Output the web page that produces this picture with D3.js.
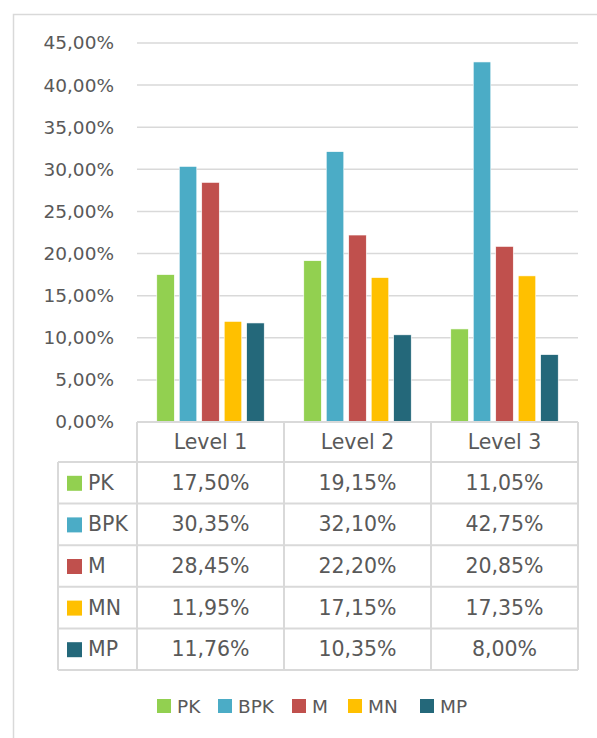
<!DOCTYPE html>
<html>
<head>
<meta charset="utf-8">
<script src="https://cdn.jsdelivr.net/npm/d3@7/dist/d3.min.js"></script>
<style>
  html, body { margin: 0; padding: 0; background: #fff; }
  svg { display: block; }
  text { font-family: "DejaVu Sans", sans-serif; fill: #595959; }
</style>
</head>
<body>
<svg id="chart" width="597" height="738"></svg>
<script>
const categories = ["Level 1", "Level 2", "Level 3"];
const seriesNames = ["PK", "BPK", "M", "MN", "MP"];
const seriesColors = ["#92D050", "#4BACC6", "#C0504D", "#FFC000", "#24687A"];
const pkValues  = [17.50, 19.15, 11.05];
const bpkValues = [30.35, 32.10, 42.75];
const mValues   = [28.45, 22.20, 20.85];
const mnValues  = [11.95, 17.15, 17.35];
const mpValues  = [11.76, 10.35, 8.00];
const yTicks = [0, 5, 10, 15, 20, 25, 30, 35, 40, 45];

const seriesValues = [pkValues, bpkValues, mValues, mnValues, mpValues];
const fmt = v => v.toFixed(2).replace(".", ",") + "%";

const svg = d3.select("#chart");
const grid = "#D9D9D9";

// outer chart border
svg.append("rect").attr("x", 13.5).attr("y", 14.5).attr("width", 620).attr("height", 760)
  .attr("fill", "none").attr("stroke", grid).attr("stroke-width", 1.5);

const plot = { left: 137, right: 578, top: 43, bottom: 422 };
const y = d3.scaleLinear().domain([0, 45]).range([plot.bottom, plot.top]);
const x0 = d3.scaleBand().domain(categories).range([plot.left, plot.right]);
const x1 = d3.scaleBand().domain(seriesNames).range([0, x0.bandwidth()])
  .paddingInner(0.22).paddingOuter(0.88);

// gridlines
svg.append("g").selectAll("line").data(yTicks.filter(t => t > 0)).join("line")
  .attr("x1", plot.left).attr("x2", plot.right)
  .attr("y1", d => y(d)).attr("y2", d => y(d))
  .attr("stroke", grid).attr("stroke-width", 1.5);

// y axis labels
const yAxis = d3.axisLeft(y).tickValues(yTicks).tickSize(0).tickPadding(0)
  .tickFormat(d => d.toFixed(2).replace(".", ",") + "%");
const ya = svg.append("g").attr("transform", "translate(114,0)").call(yAxis);
ya.select(".domain").remove();
ya.selectAll("text").attr("font-size", 18.5).attr("fill", "#595959")
  .style("font-family", "'DejaVu Sans', sans-serif");

// bars
const rows = categories.map((c, i) => ({ cat: c, vals: seriesNames.map((s, j) => ({ s, v: seriesValues[j][i], c: seriesColors[j] })) }));
svg.append("g").selectAll("g").data(rows).join("g")
  .attr("transform", d => `translate(${x0(d.cat)},0)`)
  .selectAll("rect").data(d => d.vals).join("rect")
  .attr("x", d => x1(d.s)).attr("width", x1.bandwidth())
  .attr("y", d => y(d.v)).attr("height", d => y(0) - y(d.v))
  .attr("fill", d => d.c).attr("stroke", "#fff").attr("stroke-width", 0.6);

// data table
const rowH = (670 - 462) / 5;
const headTop = plot.bottom, headBot = 462, tableBot = 670, labelLeft = 58;
const tg = svg.append("g");
const lineAttrs = sel => sel.attr("stroke", grid).attr("stroke-width", 2);
tg.append("line").attr("x1", plot.left).attr("x2", plot.right).attr("y1", headTop).attr("y2", headTop).call(lineAttrs);
for (let r = 0; r <= 5; r++) {
  const yy = headBot + r * rowH;
  tg.append("line").attr("x1", labelLeft).attr("x2", plot.right).attr("y1", yy).attr("y2", yy).call(lineAttrs);
}
tg.append("line").attr("x1", labelLeft).attr("x2", labelLeft).attr("y1", headBot).attr("y2", tableBot).call(lineAttrs);
const colEdges = categories.map(c => x0(c)).concat([plot.right]);
colEdges.forEach(xx => tg.append("line").attr("x1", xx).attr("x2", xx).attr("y1", headTop).attr("y2", tableBot).call(lineAttrs));

tg.selectAll("text.head").data(categories).join("text").attr("class", "head")
  .attr("x", d => x0(d) + x0.bandwidth() / 2).attr("y", (headTop + headBot) / 2)
  .attr("text-anchor", "middle").attr("dominant-baseline", "central")
  .attr("font-size", 20.5).text(d => d);

seriesNames.forEach((s, j) => {
  const cy = headBot + j * rowH + rowH / 2;
  tg.append("rect").attr("x", 67).attr("y", cy - 7).attr("width", 15).attr("height", 15).attr("fill", seriesColors[j]);
  tg.append("text").attr("x", 88).attr("y", cy).attr("dominant-baseline", "central")
    .attr("font-size", 20.5).text(s);
  categories.forEach((c, i) => {
    tg.append("text").attr("x", x0(c) + x0.bandwidth() / 2).attr("y", cy)
      .attr("text-anchor", "middle").attr("dominant-baseline", "central")
      .attr("font-size", 20.5).text(fmt(seriesValues[j][i]));
  });
});

// legend
const legendX = [157, 218, 292, 348, 420];
const lg = svg.append("g");
seriesNames.forEach((s, j) => {
  lg.append("rect").attr("x", legendX[j]).attr("y", 699).attr("width", 14).attr("height", 14).attr("fill", seriesColors[j]);
  lg.append("text").attr("x", legendX[j] + 20).attr("y", 706.5).attr("dominant-baseline", "central")
    .attr("font-size", 18.5).text(s);
});
</script>
</body>
</html>
